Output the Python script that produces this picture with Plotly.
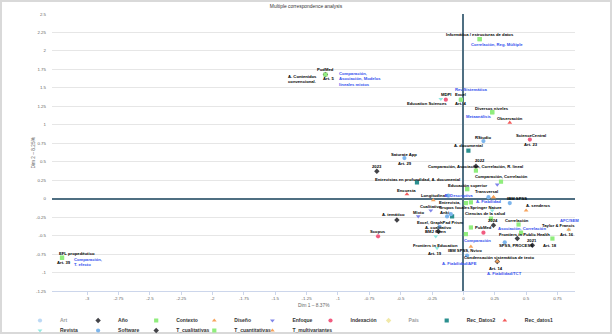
import plotly.graph_objects as go

TITLE = "Multiple correspondence analysis"
X_TITLE = "Dim 1 – 8.37%"
Y_TITLE = "Dim 2 – 8.25%"

X_TICKS = [-3, -2.75, -2.5, -2.25, -2, -1.75, -1.5, -1.25, -1, -0.75, -0.5, -0.25, 0, 0.25, 0.5, 0.75]
X_TICK_LABELS = ["-3", "-2.75", "-2.5", "-2.25", "-2", "-1.75", "-1.5", "-1.25", "-1", "-0.75",
                 "-0.5", "-0.25", "0", "0.25", "0.5", "0.75"]
Y_TICKS = [-1.25, -1, -0.75, -0.5, -0.25, 0, 0.25, 0.5, 0.75, 1, 1.25, 1.5, 1.75, 2, 2.25, 2.5]
Y_TICK_LABELS = ["-1.25", "-1", "-0.75", "-0.5", "-0.25", "0", "0.25", "0.5", "0.75", "1",
                 "1.25", "1.5", "1.75", "2", "2.25", "2.5"]

# (label, dim1, dim2)
ART = [("Art. 5", -1.10, 1.68), ("Art. 4", -0.02, 1.34), ("Art. 23", 0.53, 0.80),
       ("Art. 29", -0.47, 0.55), ("Art. 39", -3.20, -0.80), ("Art. 19", -0.21, -0.67),
       ("Art. 14", 0.27, -0.85), ("Art. 18", 0.71, -0.54), ("Art. 16", 0.84, -0.42)]
ANO = [("2023", -0.69, 0.37), ("2022", 0.10, 0.44), ("2024", 0.24, -0.36), ("2021", 0.55, -0.63)]
CONTEXTO = [("Informática / estructuras de datos", 0.13, 2.16), ("Diversos niveles", 0.23, 1.17),
            ("Educación superior", 0.03, 0.13), ("Ciencias de la salud", 0.22, -0.27),
            ("EFL propedéutico", -3.20, -0.80)]
DISENO = [("Longitudinal", -0.24, -0.02), ("Transversal", 0.24, 0.02)]
ENFOQUE = [("Cualitativo", -0.26, -0.16), ("Mixto", -0.36, -0.24), ("", 0.27, 0.19)]
INDEXACION = [("PudMed", -1.10, 1.68), ("MDPI", -0.14, 1.34), ("ScienceCentral", 0.53, 0.80),
              ("Scopus", -0.68, -0.51), ("PubMed", 0.16, -0.46)]
PAIS = []
REC_DATOS2 = [("A. documental", 0.04, 0.65), ("Entrevistas en profundidad, A. documental", -0.37, 0.22),
              ("Entrevista,<br>Grupos focales", -0.09, -0.24)]
REC_DATOS1 = [("Observación", 0.37, 1.03), ("Encuesta", -0.45, 0.06)]
REVISTA = [("Education Sciences", -0.18, 1.35), ("Springer Nature", 0.23, -0.16),
           ("BMJ Open", -0.22, -0.51), ("Frontiers in Education", -0.21, -0.67),
           ("Frontiers in Public Health", 0.43, -0.54), ("Taylor & Francis", 0.84, -0.42)]
SOFTWARE = [("Excel", -0.02, 1.34), ("RStudio", 0.16, 0.78), ("Saturate App", -0.47, 0.55),
            ("", 0.20, 0.02), ("", -0.12, 0.04), ("IBM SPSS", 0.37, -0.06), ("Anki", -0.13, -0.24),
            ("", -0.10, -0.21), ("Excel, GraphPad Prism", -0.19, -0.38), ("SPSS, PROCESS", 0.33, -0.59),
            ("IBM SPSS, Nvivo", 0.03, -0.77)]
T_CUALITATIVAS = [("A. Contenidos<br>convencional.", -1.10, 1.68), ("A. temático", -0.53, -0.29),
                  ("A. cualitativo", -0.20, -0.44), ("", 0.43, -0.54),
                  ("Condensación sistemática de texto", 0.27, -0.85)]
T_CUANTITATIVAS = [("Correlación, Reg. Múltiple", 0.13, 2.16),
                   ("Comparación,<br>Asociación, Modelos<br>lineales mixtos", -1.10, 1.68),
                   ("Rev.Sistemática", -0.02, 1.34), ("Metaanálisis", 0.23, 1.17),
                   ("Comparación, Asociación, Correlación, R. lineal", 0.10, 0.38),
                   ("Comparación, Correlación", 0.30, 0.23), ("E. Descriptiva", 0.03, 0.13),
                   ("", 0.02, -0.06), ("", 0.06, -0.05), ("", 0.06, -0.39),
                   ("Comparación", 0.02, -0.48), ("Correlación", 0.44, -0.35),
                   ("Asociación, Correlación", 0.46, -0.46), ("", 0.71, -0.54),
                   ("Comparación,<br>T. efecto", -3.20, -0.80)]
T_MULTIVARIANTES = [("A. Fiabilidad", 0.24, 0.02), ("A. senderos", 0.50, -0.16), ("AFC/SEM", 0.84, -0.42),
                    ("A. Fiabilidad/AFE", 0.06, -0.65), ("A. Fiabilidad/TCT", 0.27, -0.85)]

SERIES = [("Art", ART), ("Año", ANO), ("Contexto", CONTEXTO), ("Diseño", DISENO),
          ("Enfoque", ENFOQUE), ("Indexación", INDEXACION), ("País", PAIS),
          ("Rec_Datos2", REC_DATOS2), ("Rec_datos1", REC_DATOS1), ("Revista", REVISTA),
          ("Software", SOFTWARE), ("T_cualitativas", T_CUALITATIVAS),
          ("T_cuantitativas", T_CUANTITATIVAS), ("T_multivariantes", T_MULTIVARIANTES)]

# ---- styles ----
STYLE = {
    "Art": ("#7cb5ec", "circle"), "Año": ("#434348", "diamond"), "Contexto": ("#90ed7d", "square"),
    "Diseño": ("#f7a35c", "triangle-up"), "Enfoque": ("#8085e9", "triangle-down"),
    "Indexación": ("#f15c80", "circle"), "País": ("#e4d354", "diamond"),
    "Rec_Datos2": ("#2b908f", "square"), "Rec_datos1": ("#f45b5b", "triangle-up"),
    "Revista": ("#91e8e1", "triangle-down"), "Software": ("#7cb5ec", "circle"),
    "T_cualitativas": ("#434348", "diamond"), "T_cuantitativas": ("#90ed7d", "square"),
    "T_multivariantes": ("#f7a35c", "triangle-up"),
}
HIDDEN = {"Art", "País"}
LEGEND_COLUMNS = 9                # entries per legend row
LEGEND_X0, LEGEND_DX = 53, 58.1   # text start of first column and column pitch (px)
LEGEND_ROWS_Y = [318, 328]        # row centres (px from top)

SHIFT = {
    "Art. 5": (3, -4), "Art. 4": (0, -4), "Art. 23": (1, -5), "Art. 29": (1, -5), "Art. 39": (2, -5),
    "Art. 19": (-2, -5), "Art. 14": (-1, -7), "Art. 18": (-2, -7), "Art. 16": (-2, -5),
    "2022": (4, 6),
    "Diversos niveles": (0, 4), "Educación superior": (0, 4), "Ciencias de la salud": (-6, 5),
    "EFL propedéutico": (15, 4), "Transversal": (-7, 6), "Cualitativo": (0, 4), "Mixto": (0, 4),
    "ScienceCentral": (1, 4), "Entrevistas en profundidad, A. documental": (1, 3),
    "Entrevista,<br>Grupos focales": (2, 11), "Observación": (0, 4), "Encuesta": (0, 4),
    "Education Sciences": (-14, -5), "Springer Nature": (-6, 3), "Frontiers in Education": (-2, 3),
    "Frontiers in Public Health": (7, 4), "Taylor & Francis": (-10, 4),
    "RStudio": (0, 4), "Saturate App": (0, 4), "IBM SPSS": (7, 5), "Anki": (-3, 4),
    "Excel, GraphPad Prism": (0, 4), "SPSS, PROCESS": (11, -3), "IBM SPSS, Nvivo": (-2, 5),
    "A. Contenidos<br>convencional.": (-6, -4.5), "A. temático": (-3, 6), "A. cualitativo": (0, 4),
    "Condensación sistemática de texto": (2, 4),
    "Correlación, Reg. Múltiple": (-11, -5),
    "Comparación,<br>Asociación, Modelos<br>lineales mixtos": (12, -4),
    "Rev.Sistemática": (10, 10), "Metaanálisis": (-13, -4),
    "Comparación, Asociación, Correlación, R. lineal": (0, 4), "E. Descriptiva": (-8, -6),
    "Comparación": (12, -6), "Correlación": (-2, 4), "Asociación, Correlación": (1, 4),
    "Comparación,<br>T. efecto": (10, -4.5),
    "A. Fiabilidad": (-5, -4), "A. senderos": (12, 5), "AFC/SEM": (1, 9),
    "A. Fiabilidad/AFE": (-11, -17), "A. Fiabilidad/TCT": (7, -12),
}
ANCHOR_LEFT = {"Correlación, Reg. Múltiple", "Comparación,<br>Asociación, Modelos<br>lineales mixtos",
               "Comparación,<br>T. efecto"}
ANCHOR_RIGHT = {"A. Contenidos<br>convencional."}
BLUE = {"Correlación, Reg. Múltiple", "Comparación,<br>Asociación, Modelos<br>lineales mixtos",
        "Rev.Sistemática", "Metaanálisis", "E. Descriptiva", "Comparación", "Asociación, Correlación",
        "Comparación,<br>T. efecto", "A. Fiabilidad", "AFC/SEM", "A. Fiabilidad/AFE", "A. Fiabilidad/TCT"}

FONT = "Liberation Sans"
W, H = 612, 334
ML, MR, MT, MB = 52, 37, 14, 43
PW, PH = W - ML - MR, H - MT - MB

fig = go.Figure()
annotations = []
legends = {}
for i, (name, pts) in enumerate(SERIES):
    color, symbol = STYLE[name]
    xs = [p[1] for p in pts] or [None]
    ys = [p[2] for p in pts] or [None]
    leg_id = "legend" if i == 0 else f"legend{i + 1}"
    row, col = divmod(i, LEGEND_COLUMNS)
    legends[leg_id] = dict(
        orientation="h", xref="container", yref="container", xanchor="left", yanchor="top",
        x=(LEGEND_X0 + col * LEGEND_DX - 33) / W, y=1 - (LEGEND_ROWS_Y[row] - 12) / H,
        itemwidth=30, bgcolor="rgba(0,0,0,0)", borderwidth=0,
        font=dict(family=FONT, size=5, color="#333333", weight="bold"),
    )
    fig.add_trace(go.Scatter(
        x=xs, y=ys, mode="markers", name=name,
        marker=dict(color=color, symbol=symbol, size=4.2, line=dict(width=0)),
        visible="legendonly" if name in HIDDEN else True,
        legend=leg_id, hoverinfo="skip",
    ))
    if name == "País":
        continue
    for lbl, x, y in pts:
        if not lbl:
            continue
        dx, dy = SHIFT.get(lbl, (0, 5))
        xa = "left" if lbl in ANCHOR_LEFT else ("right" if lbl in ANCHOR_RIGHT else "center")
        annotations.append(dict(
            x=x, y=y, xref="x", yref="y", text=lbl, showarrow=False,
            xshift=dx, yshift=dy, xanchor=xa, yanchor="middle", align="left",
            font=dict(family=FONT, size=4.2, weight="bold",
                      color="#3350ee" if lbl in BLUE else "#000000"),
        ))

# axis titles
annotations.append(dict(x=0.5, y=-(305 - (MT + PH)) / PH, xref="paper", yref="paper", text=X_TITLE,
                        showarrow=False, xanchor="center", yanchor="middle",
                        font=dict(family=FONT, size=4.8, color="#666666")))
annotations.append(dict(x=-(ML - 33) / PW, y=0.5, xref="paper", yref="paper", text=Y_TITLE,
                        showarrow=False, xanchor="center", yanchor="middle", textangle=-90,
                        font=dict(family=FONT, size=4.8, color="#666666")))

fig.update_layout(
    width=W, height=H,
    margin=dict(l=ML, r=MR, t=MT, b=MB, autoexpand=False),
    paper_bgcolor="white", plot_bgcolor="white",
    title=dict(text=TITLE, x=0.5, xref="container", xanchor="center", y=1 - 6.5 / H, yanchor="middle",
               font=dict(family=FONT, size=4.9, color="#333333")),
    xaxis=dict(range=[-3.28, 0.89], tickvals=X_TICKS, ticktext=X_TICK_LABELS, showgrid=False,
               showline=True, linecolor="#ccd6eb", linewidth=1, ticks="outside", ticklen=3,
               tickcolor="#ccd6eb", tickfont=dict(family=FONT, size=4.4, color="#666666"),
               zeroline=True, zerolinecolor="#4f6f82", zerolinewidth=2),
    yaxis=dict(range=[-1.25, 2.5], tickvals=Y_TICKS, ticktext=Y_TICK_LABELS, showgrid=True,
               gridcolor="#e6e6e6", gridwidth=1, showline=False, ticks="",
               ticklabelstandoff=5, tickfont=dict(family=FONT, size=4.4, color="#666666"),
               zeroline=True, zerolinecolor="#4f6f82", zerolinewidth=2),
    annotations=annotations,
    shapes=[dict(type="rect", xref="paper", yref="paper",
                 x0=-(ML - 1) / PW, x1=1 + (MR - 1) / PW, y0=-(MB - 1) / PH, y1=1 + (MT - 1) / PH,
                 line=dict(color="#d9d9d9", width=2), layer="below")],
    showlegend=True,
    **legends,
)

fig.write_html("out.html")
